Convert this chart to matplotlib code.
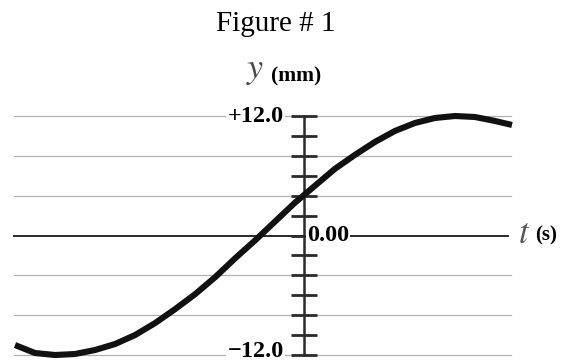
import matplotlib
matplotlib.use("Agg")
import matplotlib.pyplot as plt

plt.rcParams["mathtext.fontset"] = "stix"

# curve (t in arbitrary units, y in mm)
t_vals = [-2.89, -2.69, -2.49, -2.29, -2.09, -1.89, -1.69, -1.49, -1.29,
          -1.09, -0.89, -0.69, -0.49, -0.29, -0.09, 0.11, 0.31, 0.51, 0.71,
          0.91, 1.11, 1.31, 1.51, 1.71, 1.91, 2.08]
y_vals = [-11.0, -11.8, -12.0, -11.9, -11.5, -10.9, -10.0, -8.8, -7.4,
          -5.9, -4.2, -2.3, -0.5, 1.4, 3.3, 5.0, 6.7, 8.1, 9.4,
          10.5, 11.3, 11.8, 12.0, 11.9, 11.5, 11.1]

grid_levels = [-12, -8, -4, 4, 8, 12]
tick_levels = [-12, -10, -8, -6, -4, -2, 0, 2, 4, 6, 8, 10, 12]
y_labels = {12: "+12.0", -12: "\u221212.0"}

T_MIN, T_MAX = -2.90, 2.08
SERIF = ["Liberation Serif", "DejaVu Serif"]

fig = plt.figure(figsize=(5.63, 3.63), dpi=100)
ax = fig.add_axes([14 / 563, 8 / 363, 498 / 563, 239 / 363])
ax.set_xlim(T_MIN, T_MAX)
ax.set_ylim(-12, 12)
ax.axis("off")

# grey horizontal rules
for lv in grid_levels:
    ax.plot([T_MIN, T_MAX - 0.01], [lv, lv], color="#b0b0b0", lw=0.9,
            clip_on=False, zorder=1)
# t axis
ax.plot([T_MIN, T_MAX - 0.04], [0, 0], color="#2a2a2a", lw=1.4,
        clip_on=False, zorder=2)
# y axis with ticks
ax.plot([0, 0], [-12, 12], color="#2a2a2a", lw=1.8, clip_on=False, zorder=3)
for lv in tick_levels:
    ax.plot([-0.13, 0.13], [lv, lv], color="#2a2a2a", lw=2.0,
            solid_capstyle="butt", clip_on=False, zorder=3)

# curve
ax.plot(t_vals, y_vals, color="#111111", lw=4.4, solid_capstyle="butt",
        solid_joinstyle="round", clip_on=False, zorder=5)

# axis labels (the lower one nudged up so it stays inside the image)
for lv, txt in y_labels.items():
    ax.text(-0.20, lv + (0.35 if lv < 0 else 0), txt, ha="right", va="center",
            fontsize=17.5, fontweight="bold", family=SERIF, zorder=4,
            bbox=dict(facecolor="white", edgecolor="none", pad=1))
ax.text(0.03, 0, "0.00", ha="left", va="center", fontsize=17.5,
        fontweight="bold", family=SERIF, zorder=4,
        bbox=dict(facecolor="white", edgecolor="none", pad=0.5))
ax.text(2.14, 0.3, "$t$", ha="left", va="center", fontsize=25, color="#555555",
        zorder=4)
ax.text(2.31, 0, "(s)", ha="left", va="center", fontsize=15,
        fontweight="bold", family=SERIF, zorder=4)

fig.text(276 / 563, 1 - 24 / 363, "Figure # 1", ha="center", va="center",
         fontsize=21, family=SERIF)
fig.text(255 / 563, 1 - 70 / 363, "$y$", ha="center", va="center",
         fontsize=26, color="#4a4a4a")
fig.text(271 / 563, 1 - 76 / 363, "(mm)", ha="left", va="center",
         fontsize=15.5, fontweight="bold", family=SERIF)

fig.savefig("out.png", dpi=100)
